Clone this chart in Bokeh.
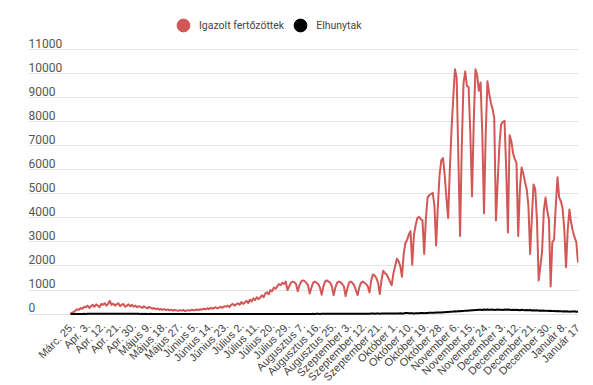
from math import pi
from bokeh.plotting import figure
from bokeh.models import FixedTicker, Grid, Legend, LegendItem, Range1d
from bokeh.core.properties import value
from bokeh.embed import file_html
from bokeh.resources import INLINE

date_labels = ["Márc. 25.", "Apr. 3.", "Apr. 12.", "Apr. 21.", "Apr. 30.", "Május 9.", "Május 18.",
               "Május 27.", "Június 5.", "Június 14.", "Június 23.", "Július 2.", "Július 11.",
               "Július 20.", "Július 29.", "Augusztus 7.", "Augusztus 16.", "Augusztus 25.",
               "Szeptember 3.", "Szeptember 12.", "Szeptember 21.", "Október 1.", "Október 10.",
               "Október 19.", "Október 28.", "November 6.", "November 15.", "November 24.",
               "December 3.", "December 12.", "December 21.", "December 30.", "Január 8.", "Január 17."]

y_ticks = [0, 1000, 2000, 3000, 4000, 5000, 6000, 7000, 8000, 9000, 10000, 11000]
y_tick_labels = ["0", "1000", "2000", "3000", "4000", "5000", "6000", "7000", "8000", "9000", "10000", "11000"]

cases = [
    30, 60, 80, 150, 200, 180, 250,
    220, 300, 280, 350, 250, 320, 380,
    300, 400, 350, 280, 420, 380, 450,
    350, 420, 550, 380, 430, 350, 400,
    450, 330, 380, 420, 300, 350, 400,
    320, 380, 300, 350, 280, 330, 300,
    250, 320, 280, 230, 300, 260, 220,
    250, 200, 230, 180, 210, 170, 200,
    160, 190, 150, 180, 140, 170, 150,
    130, 160, 140, 170, 120, 150, 160,
    140, 180, 150, 170, 190, 160, 200,
    180, 220, 190, 240, 200, 260, 220,
    250, 280, 230, 270, 300, 260, 320,
    300, 350, 280, 380, 420, 350, 400,
    450, 380, 500, 420, 480, 550, 450,
    600, 520, 650, 580, 700, 620, 680,
    780, 700, 850, 900, 820, 1000, 950,
    1100, 1050, 1150, 1250, 1200, 1300, 1250,
    1350, 1000, 1150, 1300, 1350, 1320, 1250,
    950, 1200, 1350, 1400, 1380, 1300, 1200,
    850, 1100, 1300, 1350, 1300, 1250, 1100,
    800, 1150, 1350, 1400, 1350, 1300, 1150,
    780, 1100, 1300, 1350, 1320, 1250, 1150,
    750, 1050, 1300, 1350, 1300, 1200, 1000,
    780, 1100, 1300, 1350, 1300, 1250, 1150,
    900, 1400, 1650, 1600, 1500, 1300, 830,
    1400, 1800, 1700, 1650, 1500, 1350, 1200,
    1700, 2000, 2300, 2200, 2000, 1550,
    2500, 2950, 3100, 3300, 3450, 2050,
    3300, 3700, 4000, 4050, 3950, 3900, 2500,
    4000, 4850, 4950, 5000, 5050, 4500, 2850,
    4500, 5800, 6400, 6500, 5800, 4850, 4000,
    6000, 7700, 9000, 10200, 9850, 6500, 3250,
    7000, 9600, 10100, 9500, 9450, 7500, 4900,
    8000, 10200, 9950, 9300, 9650, 7500, 4200,
    7500, 9700, 9200, 8800, 8550, 8150, 3900,
    5500, 7000, 7900, 8000, 8050, 6000, 3400,
    7450, 7200, 6700, 6450, 6300, 3250,
    5200, 6100, 5850, 5500, 5200, 4500, 2500,
    4000, 5400, 5200, 3900, 1400,
    2000, 2600, 4300, 4850, 4300, 3950, 1150,
    3000, 3100, 4500, 5700, 4850, 4700, 4400, 3500, 1950,
    3500, 4350, 3800, 3450, 3200, 3000, 2150,
]

deaths = [
    1, 2, 1, 3, 2, 4, 3,
    5, 6, 4, 7, 8, 6, 9,
    10, 8, 12, 11, 9, 13, 14,
    12, 10, 13, 11, 14, 12, 10,
    12, 9, 11, 10, 8, 9, 10,
    8, 7, 9, 6, 8, 7, 5,
    6, 5, 7, 4, 5, 6, 3,
    4, 3, 5, 2, 4, 3, 2,
    3, 2, 1, 2, 3, 1, 2,
    1, 2, 0, 1, 2, 1, 0,
    1, 0, 2, 1, 0, 1, 2,
    0, 1, 1, 0, 2, 1, 0,
    1, 0, 1, 2, 0, 1, 1,
    0, 1, 0, 1, 2, 0, 1,
    1, 0, 1, 0, 1, 1, 0,
    1, 2, 0, 1, 1, 0, 1,
    0, 1, 2, 1, 0, 1, 2,
    1, 2, 1, 3, 2, 1, 2,
    3, 2, 4, 3, 2, 4, 3,
    4, 3, 5, 4, 3, 5, 4,
    5, 4, 6, 5, 7, 6, 5,
    7, 6, 8, 7, 6, 8, 7,
    8, 7, 9, 8, 10, 9, 8,
    10, 12, 11, 9, 13, 12, 10,
    12, 14, 13, 11, 15, 14, 12,
    15, 17, 16, 14, 18, 16, 15,
    18, 20, 17, 19, 22, 20, 18,
    22, 25, 23, 21, 27, 24, 22,
    40, 45, 35, 30, 28, 25, 30,
    32, 35, 38, 40, 36, 42, 45,
    48, 52, 50, 55, 60, 58, 62,
    65, 70, 75, 80, 85, 90, 95,
    100, 110, 105, 120, 115, 125, 130,
    140, 135, 150, 145, 160, 155, 170,
    165, 175, 180, 170, 185, 175, 190,
    180, 175, 185, 170, 180, 190, 175,
    180, 170, 185, 175, 190, 180, 170,
    175, 165, 180, 170, 160, 175, 165,
    160, 170, 155, 165, 150, 160, 145,
    155, 140, 150, 135, 145, 130, 140,
    125, 135, 120, 130, 115, 125, 110,
    120, 105, 115, 100, 110, 95, 105,
    100, 110, 95, 90,
]

RED = "#d25757"
x_cases = list(range(len(cases)))
x_deaths = list(range(len(deaths)))
x_start = -24.56
x_end = len(cases) - 0.7

p = figure(width=593, height=385, output_backend="svg", toolbar_location=None,
           x_range=Range1d(x_start, x_end), y_range=Range1d(-2979, 13062),
           x_axis_location=None, y_axis_location=None,
           min_border_left=28, min_border_right=15, min_border_top=0, min_border_bottom=0)
p.outline_line_color = None
p.background_fill_color = "white"
for g in p.grid:
    g.visible = False

ygrid = Grid(dimension=1, ticker=FixedTicker(ticks=y_ticks),
             grid_line_color="#e2e2e2", grid_line_width=1)
p.add_layout(ygrid)

# y tick labels sitting above their gridlines
p.text(x=[x_start] * len(y_ticks), y=y_ticks, text=y_tick_labels,
       text_align="left", text_baseline="bottom", y_offset=-2,
       text_font=value("Roboto"), text_font_size="12px", text_color="#555555")

p.line(x_cases, cases, line_color=RED, line_width=2, line_join="round")
p.line(x_deaths, deaths, line_color="black", line_width=2, line_join="round")

# slanted category labels, every 9th day
tick_pos = list(range(0, len(cases), 9))
p.text(x=tick_pos, y=[0] * len(tick_pos), text=date_labels[:len(tick_pos)],
       angle=pi / 4, text_align="right", text_baseline="middle",
       x_offset=2, y_offset=10,
       text_font=value("Liberation Sans"), text_font_size="11px", text_color="#444444")

r1 = p.scatter(x=x_cases[:1], y=cases[:1], marker="circle", size=13,
               fill_color=RED, line_color=RED, visible=False)
r2 = p.scatter(x=x_deaths[:1], y=deaths[:1], marker="circle", size=13,
               fill_color="black", line_color="black", visible=False)
legend = Legend(items=[LegendItem(label="Igazolt fertőzöttek", renderers=[r1]),
                       LegendItem(label="Elhunytak", renderers=[r2])],
                orientation="horizontal", location=(139, 344),
                border_line_color=None, background_fill_alpha=0,
                padding=0, margin=0, spacing=0, label_standoff=0,
                glyph_width=32, glyph_height=32,
                label_text_font="Roboto", label_text_font_size="10.5px",
                label_text_color="#444444")
p.add_layout(legend)

open("out.html", "w").write(file_html(p, INLINE))
